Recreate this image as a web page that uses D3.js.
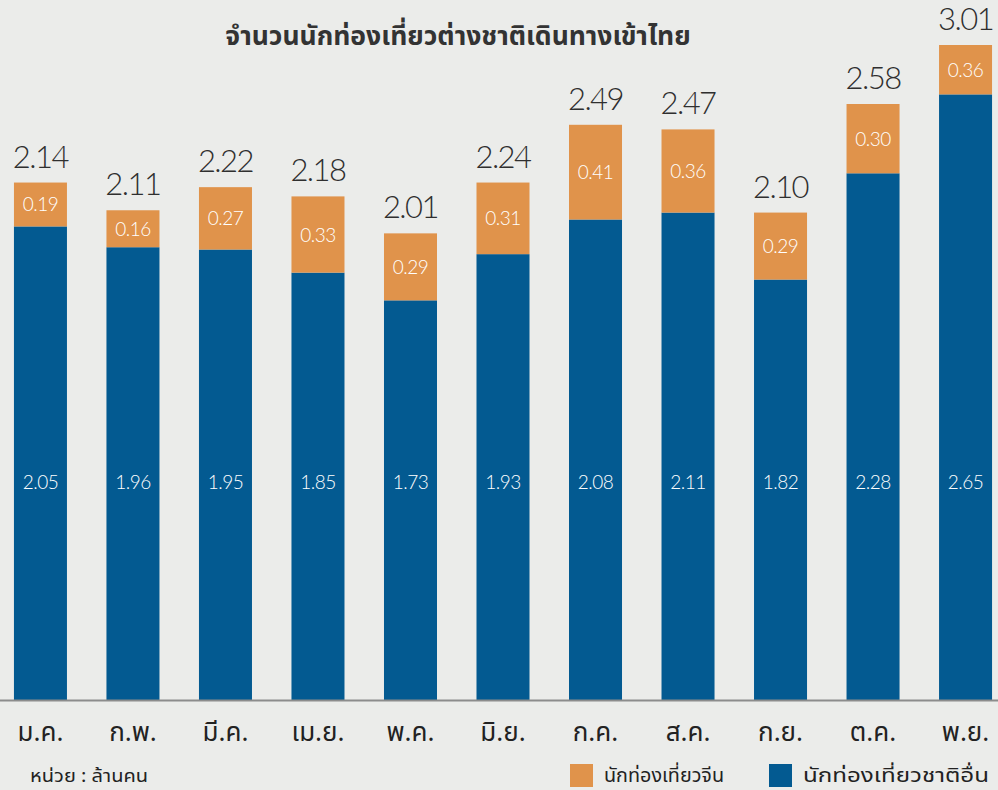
<!DOCTYPE html>
<html>
<head>
<meta charset="utf-8">
<script src="https://cdn.jsdelivr.net/npm/d3@7"></script>
<style>
  html, body { margin: 0; padding: 0; background: #ebecea; }
  svg { display: block; }
  .thai { font-family: "Noto Sans Thai", "Noto Sans Thai UI", "Noto Sans", "DejaVu Sans", sans-serif; }
  .num { font-family: "Lato", "Open Sans", sans-serif; }
</style>
</head>
<body>
<svg id="chart" width="998" height="790"></svg>
<script>
const title = "จำนวนนักท่องเที่ยวต่างชาติเดินทางเข้าไทย";
const months = ["ม.ค.", "ก.พ.", "มี.ค.", "เม.ย.", "พ.ค.", "มิ.ย.", "ก.ค.", "ส.ค.", "ก.ย.", "ต.ค.", "พ.ย."];
const otherValues = [2.05, 1.96, 1.95, 1.85, 1.73, 1.93, 2.08, 2.11, 1.82, 2.28, 2.65];
const chinaValues = [0.19, 0.16, 0.27, 0.33, 0.29, 0.31, 0.41, 0.36, 0.29, 0.30, 0.36];
const totalLabels = ["2.14", "2.11", "2.22", "2.18", "2.01", "2.24", "2.49", "2.47", "2.10", "2.58", "3.01"];
const seriesNames = ["นักท่องเที่ยวจีน", "นักท่องเที่ยวชาติอื่น"];
const unitNote = "หน่วย : ล้านคน";

const colorChina = "#e0934b";
const colorOther = "#035a91";

const svg = d3.select("#chart");
const W = 998, H = 790;
const baseY = 700;

const data = months.map((m, i) => ({ month: m, other: otherValues[i], china: chinaValues[i], total: totalLabels[i] }));
const stack = d3.stack().keys(["other", "china"])(data);

const x = d3.scaleBand().domain(months).range([-5.8, 1011.8]).paddingInner(0.427).paddingOuter(0.2135);
// polylinear scale (top segment compressed as in the original artwork)
const y = d3.scaleLinear().domain([0, 2.58, 3.01]).range([baseY, 104, 45]);

// title
svg.append("text").attr("class", "thai")
  .attr("x", 458).attr("y", 45)
  .attr("text-anchor", "middle")
  .attr("font-size", 26.5).attr("font-weight", 700)
  .attr("fill", "#333")
  .text(title);

// bars
const colors = { other: colorOther, china: colorChina };
svg.append("g").selectAll("g").data(stack).join("g")
  .attr("fill", d => colors[d.key])
  .selectAll("rect").data(d => d).join("rect")
  .attr("x", d => x(d.data.month))
  .attr("width", x.bandwidth())
  .attr("y", d => y(d[1]))
  .attr("height", d => y(d[0]) - y(d[1]));

// orange segment labels
const chinaLayer = stack[1];
svg.append("g").selectAll("text").data(chinaLayer).join("text")
  .attr("class", "num")
  .attr("x", d => x(d.data.month) + x.bandwidth() / 2)
  .attr("y", d => (y(d[0]) + y(d[1])) / 2 + 7)
  .attr("text-anchor", "middle")
  .attr("font-size", 19).attr("font-weight", 300).attr("fill", "#fff")
  .attr("letter-spacing", -0.5)
  .text(d => d.data.china.toFixed(2));

// blue segment labels (fixed row)
svg.append("g").selectAll("text").data(data).join("text")
  .attr("class", "num")
  .attr("x", d => x(d.month) + x.bandwidth() / 2)
  .attr("y", 489)
  .attr("text-anchor", "middle")
  .attr("font-size", 19).attr("font-weight", 300).attr("fill", "#fff")
  .attr("letter-spacing", -0.5)
  .text(d => d.other.toFixed(2));

// total labels
svg.append("g").selectAll("text").data(chinaLayer).join("text")
  .attr("class", "num")
  .attr("x", d => x(d.data.month) + x.bandwidth() / 2)
  .attr("y", d => y(d[1]) - 15)
  .attr("text-anchor", "middle")
  .attr("font-size", 31).attr("font-weight", 300).attr("fill", "#2f2f2f")
  .attr("letter-spacing", -1.5)
  .text(d => d.data.total);

// baseline
svg.append("line").attr("x1", 0).attr("x2", W).attr("y1", baseY + 0.5).attr("y2", baseY + 0.5)
  .attr("stroke", "#8c8c8c").attr("stroke-width", 2);

// x axis labels
const xAxis = d3.axisBottom(x).tickSize(0).tickPadding(0);
const gx = svg.append("g").attr("transform", `translate(0,${baseY})`).call(xAxis);
gx.select(".domain").remove();
gx.selectAll("text").attr("class", "thai").attr("font-size", 26).attr("fill", "#222")
  .attr("dy", null).attr("y", 41);

// unit note
svg.append("text").attr("class", "thai").attr("x", 30).attr("y", 782)
  .attr("font-size", 18).attr("fill", "#222")
  .attr("textLength", 118).attr("lengthAdjust", "spacingAndGlyphs")
  .text(unitNote);

// legend
const legend = svg.append("g");
const legendItems = [
  { name: seriesNames[0], color: colorChina, x: 570, w: 120 },
  { name: seriesNames[1], color: colorOther, x: 769, w: 186 }
];
legendItems.forEach(it => {
  legend.append("rect").attr("x", it.x).attr("y", 764).attr("width", 23).attr("height", 23).attr("fill", it.color);
  legend.append("text").attr("class", "thai").attr("x", it.x + 34).attr("y", 782)
    .attr("font-size", 19.5).attr("fill", "#222")
    .attr("textLength", it.w).attr("lengthAdjust", "spacingAndGlyphs")
    .text(it.name);
});
</script>
</body>
</html>
